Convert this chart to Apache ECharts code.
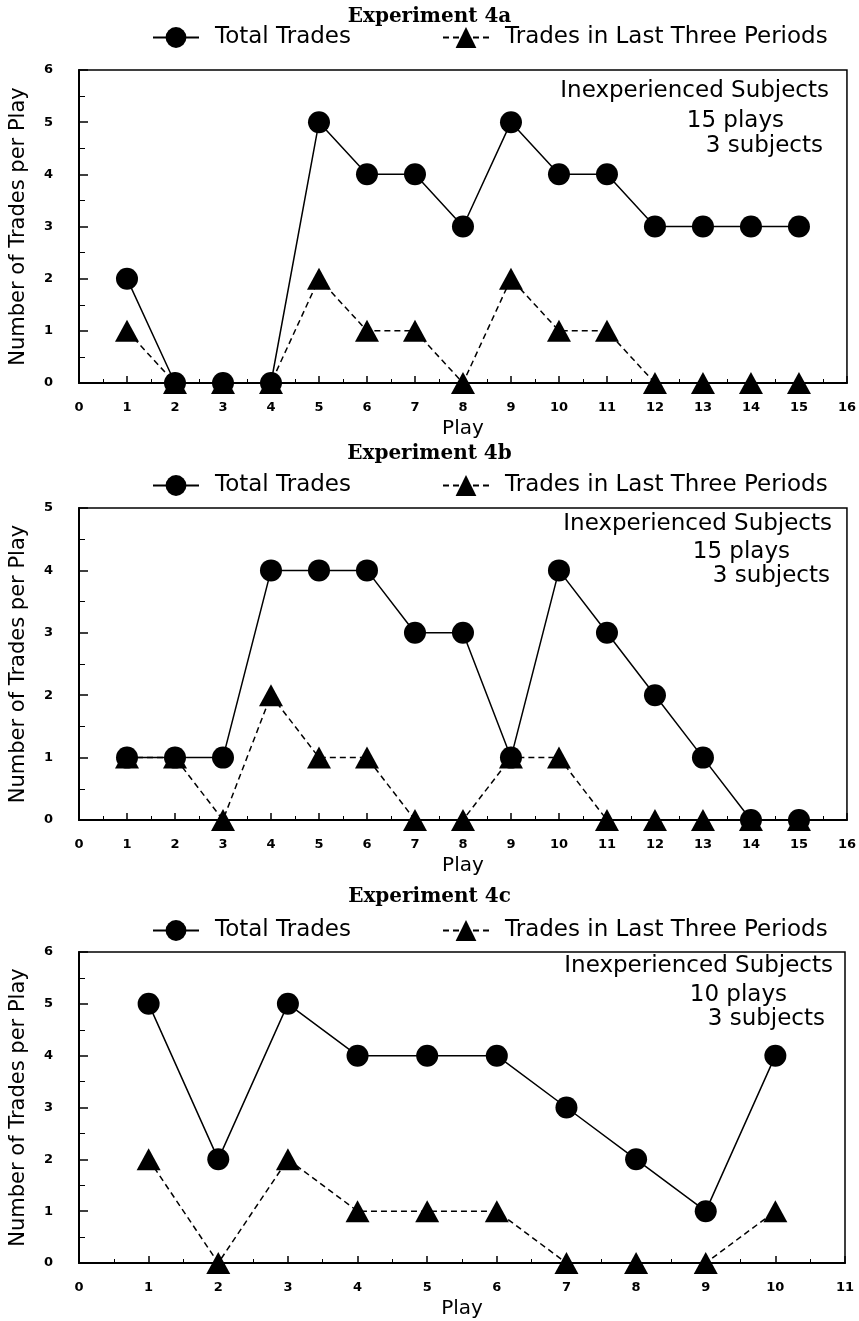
<!DOCTYPE html>
<html>
<head>
<meta charset="utf-8">
<script src="https://cdn.jsdelivr.net/npm/echarts@6/dist/echarts.min.js"></script>
<style>html,body{margin:0;padding:0;background:#fff;}#c{width:859px;height:1321px;}</style>
</head>
<body>
<div id="c"></div>
<script>
// ---- data ----
const titles = ['Experiment 4a', 'Experiment 4b', 'Experiment 4c'];
const seriesNames = ['Total Trades', 'Trades in Last Three Periods'];
const noteLine1 = 'Inexperienced Subjects';
const playsText = ['15 plays', '15 plays', '10 plays'];
const subjectsText = '3 subjects';
const total4a = [2, 0, 0, 0, 5, 4, 4, 3, 5, 4, 4, 3, 3, 3, 3];
const last4a  = [1, 0, 0, 0, 2, 1, 1, 0, 2, 1, 1, 0, 0, 0, 0];
const total4b = [1, 1, 1, 4, 4, 4, 3, 3, 1, 4, 3, 2, 1, 0, 0];
const last4b  = [1, 1, 0, 2, 1, 1, 0, 0, 1, 1, 0, 0, 0, 0, 0];
const total4c = [5, 2, 5, 4, 4, 4, 3, 2, 1, 4];
const last4c  = [2, 0, 2, 1, 1, 1, 0, 0, 0, 1];
const xMax = [16, 16, 11];
const yMax = [6, 5, 6];

const totals = [total4a, total4b, total4c];
const lasts = [last4a, last4b, last4c];

// layout (pixels)
const layout = [
  {titleTop: 2, legendTop: 21, gridTop: 70, gridH: 313, left: 77, right: 11,
   noteY: [91, 121, 146], noteR: [829, 784, 823]},
  {titleTop: 439, legendTop: 469, gridTop: 508, gridH: 312, left: 77, right: 11,
   noteY: [524, 552, 576], noteR: [832, 790, 830]},
  {titleTop: 882, legendTop: 914, gridTop: 952, gridH: 311, left: 79, right: 14,
   noteY: [966, 995, 1019], noteR: [833, 787, 825]}
];

const toXY = arr => arr.map((v, i) => [i + 1, v]);
const tickFont = {color: '#000', fontSize: 13, fontWeight: 'bold', fontFamily: 'DejaVu Sans'};
const axisLine = {show: true, lineStyle: {color: '#000', width: 2}};
const legendText = {fontFamily: 'DejaVu Sans', fontSize: 23, color: '#000', padding: [0, 0, 0, 11]};

const option = {
  backgroundColor: '#fff',
  animation: false,
  title: [], legend: [], grid: [], xAxis: [], yAxis: [], series: [], graphic: []
};

layout.forEach((L, k) => {
  option.title.push({
    text: titles[k], left: 'center', top: L.titleTop,
    textStyle: {fontFamily: 'DejaVu Serif', fontWeight: 'bold', fontSize: 20, color: '#000'}
  });
  option.legend.push({
    top: L.legendTop, left: 147, itemWidth: 46, itemHeight: 26,
    textStyle: legendText, data: [seriesNames[0]]
  });
  option.legend.push({
    top: L.legendTop, left: 437, itemWidth: 46, itemHeight: 26,
    textStyle: legendText, data: [seriesNames[1]]
  });
  option.grid.push({
    left: L.left, right: L.right, top: L.gridTop, height: L.gridH,
    show: true, borderColor: '#000', borderWidth: 1.5, backgroundColor: 'transparent'
  });
  option.xAxis.push({
    type: 'value', gridIndex: k, min: 0, max: xMax[k], interval: 1,
    name: 'Play', nameLocation: 'middle', nameGap: 36,
    nameTextStyle: {fontFamily: 'DejaVu Sans', fontSize: 20, color: '#000'},
    axisLine: axisLine,
    axisTick: {show: true, inside: true, length: 7, lineStyle: {color: '#000', width: 1.5}},
    minorTick: {show: true, splitNumber: 2, length: 4, lineStyle: {color: '#000'}},
    axisLabel: Object.assign({margin: 18}, tickFont),
    splitLine: {show: false}
  });
  option.yAxis.push({
    type: 'value', gridIndex: k, min: 0, max: yMax[k], interval: 1,
    name: 'Number of Trades per Play', nameLocation: 'middle', nameGap: 50,
    nameTextStyle: {fontFamily: 'DejaVu Sans', fontSize: 21, color: '#000'},
    axisLine: axisLine,
    axisTick: {show: true, inside: true, length: 9, lineStyle: {color: '#000', width: 1.5}},
    minorTick: {show: true, splitNumber: 2, length: 6, lineStyle: {color: '#000'}},
    axisLabel: Object.assign({margin: 26}, tickFont),
    splitLine: {show: false}
  });
  option.series.push({
    name: seriesNames[0], type: 'line', xAxisIndex: k, yAxisIndex: k,
    data: toXY(totals[k]), symbol: 'circle', symbolSize: 22, clip: false,
    itemStyle: {color: '#000'}, lineStyle: {color: '#000', width: 1.5}, z: 3
  });
  option.series.push({
    name: seriesNames[1], type: 'line', xAxisIndex: k, yAxisIndex: k,
    data: toXY(lasts[k]), symbol: 'triangle', symbolSize: [24, 22], clip: false,
    itemStyle: {color: '#000'}, lineStyle: {color: '#000', width: 1.5, type: [6, 4]}, z: 4
  });
  const texts = [noteLine1, playsText[k], subjectsText];
  texts.forEach((t, j) => {
    option.graphic.push({
      type: 'text', x: L.noteR[j], y: L.noteY[j], z: 10,
      style: {text: t, align: 'right', verticalAlign: 'middle',
              fontFamily: 'DejaVu Sans', fontSize: 23, fill: '#000'}
    });
  });
});

const chart = echarts.init(document.getElementById('c'), null, {renderer: 'canvas'});
chart.setOption(option);
</script>
</body>
</html>
